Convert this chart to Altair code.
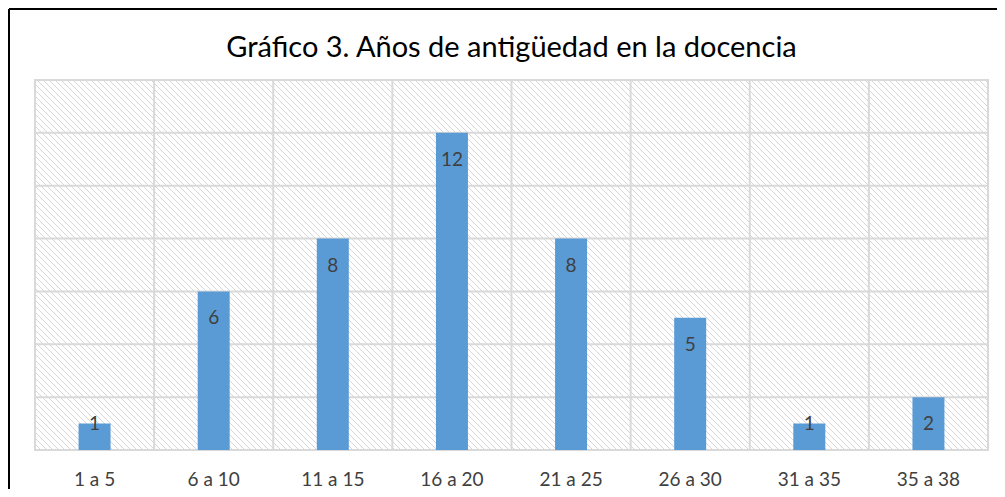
import altair as alt
import pandas as pd

# ---- data ----
categories = ["1 a 5", "6 a 10", "11 a 15", "16 a 20", "21 a 25", "26 a 30", "31 a 35", "35 a 38"]
values = [1, 6, 8, 12, 8, 5, 1, 2]
grid_values = [2, 4, 6, 8, 10, 12]
y_max = 14
title_text = "Gráfico 3. Años de antigüedad en la docencia"

df = pd.DataFrame({"cat": categories, "value": values})
grid_df = pd.DataFrame({"g": grid_values})
one = pd.DataFrame({"d": [0]})

W, H = 953, 370
FONT = "Lato"
GRID = "#d9d9d9"
HATCH_STEP = 6


def xdef(**kw):
    return alt.X(
        "cat:N",
        sort=categories,
        scale=alt.Scale(paddingInner=0, paddingOuter=0),
        title=None,
        axis=alt.Axis(
            domain=False, ticks=False, tickSize=0, grid=False, labelAngle=0,
            labelFont=FONT, labelFontSize=19, labelColor="#404040",
            labelBaseline="middle", labelPadding=29,
        ),
        **kw,
    )


yscale = alt.Scale(domain=[0, y_max], nice=False, zero=True)

# ---- hatch background (downward diagonal lines), pixel-space decoration ----
hatch = (
    alt.Chart(alt.sequence(0, (W + H) // HATCH_STEP + 2, as_="k"))
    .transform_calculate(hx1=f"datum.k * {HATCH_STEP} - {H}", hx2=f"datum.k * {HATCH_STEP}")
    .mark_rule(color="#d6d6d6", strokeWidth=1, clip=True)
    .encode(
        x=alt.X("hx1:Q", scale=None, axis=None),
        x2="hx2:Q",
        y=alt.value(0),
        y2=alt.value({"expr": "height"}),
    )
)

frame_box = alt.Chart(one).mark_rect(fill=None, stroke=GRID, strokeWidth=2).encode(
    x=alt.value(0), x2=alt.value({"expr": "width"}),
    y=alt.value(0), y2=alt.value({"expr": "height"}),
)

hgrid = alt.Chart(grid_df).mark_rule(color=GRID, strokeWidth=2).encode(
    y=alt.Y("g:Q", scale=yscale, axis=None)
)

vgrid = alt.Chart(df).mark_rule(color=GRID, strokeWidth=2).encode(x=xdef(bandPosition=0))

bars = alt.Chart(df).mark_bar(color="#5b9bd5", size=32).encode(
    x=xdef(),
    y=alt.Y("value:Q", scale=yscale, axis=None),
)

labels_in = alt.Chart(df).transform_filter("datum.value > 1").mark_text(
    font=FONT, fontSize=19, color="#404040", baseline="middle", dy=27
).encode(x=xdef(), y=alt.Y("value:Q", scale=yscale, axis=None), text="value:Q")

labels_small = alt.Chart(df).transform_filter("datum.value <= 1").mark_text(
    font=FONT, fontSize=19, color="#404040", baseline="middle", dy=0
).encode(x=xdef(), y=alt.Y("value:Q", scale=yscale, axis=None), text="value:Q")

title = alt.Chart(one).mark_text(
    font=FONT, fontSize=29, color="black", baseline="alphabetic", align="center"
).encode(
    x=alt.value({"expr": "width / 2"}), y=alt.value(-23), text=alt.value(title_text)
)

frame_top = alt.Chart(one).mark_rule(color="black", strokeWidth=2).encode(
    x=alt.value(-26), x2=alt.value(1000), y=alt.value(-71)
)
frame_left = alt.Chart(one).mark_rule(color="black", strokeWidth=2).encode(
    x=alt.value(-26), y=alt.value(-71), y2=alt.value(500)
)

main = alt.layer(frame_box, hgrid, vgrid, bars, labels_in, labels_small, title, frame_top, frame_left)

chart = alt.layer(hatch, main).resolve_scale(x="independent", y="independent").properties(
    width=W, height=H,
    autosize=alt.AutoSizeParams(type="none"),
    padding={"left": 27, "top": 72, "right": 9, "bottom": 39},
).configure_view(stroke=None).configure(background="white")

chart.save("out.html", embed_options={"renderer": "svg", "actions": False})
